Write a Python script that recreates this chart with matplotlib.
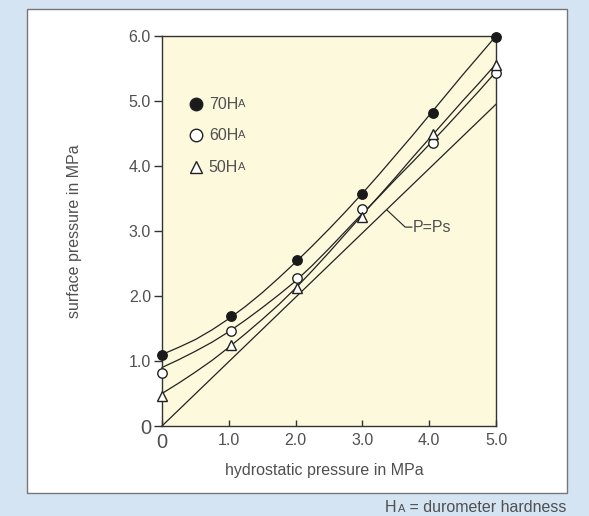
import matplotlib
matplotlib.use("Agg")
import matplotlib.pyplot as plt
from matplotlib.patches import Rectangle

plt.rcParams["font.family"] = ["Liberation Sans", "DejaVu Sans"]

# measured points (hydrostatic pressure -> surface pressure), MPa
X_PTS = [0.0, 1.03, 2.02, 3.0, 4.05, 5.0]
H70_PTS = [1.10, 1.69, 2.55, 3.57, 4.82, 5.98]
H60_PTS = [0.82, 1.46, 2.27, 3.34, 4.35, 5.43]
H50_PTS = [0.46, 1.24, 2.13, 3.21, 4.49, 5.56]

# fitted curves at 0.25 MPa steps
X_CURVE = [0.0, 0.25, 0.5, 0.75, 1.0, 1.25, 1.5, 1.75, 2.0, 2.25, 2.5,
           2.75, 3.0, 3.25, 3.5, 3.75, 4.0, 4.25, 4.5, 4.75, 5.0]
H70_CURVE = [1.10, 1.21, 1.33, 1.48, 1.65, 1.84, 2.05, 2.28, 2.52, 2.77, 3.03,
             3.30, 3.58, 3.87, 4.17, 4.47, 4.78, 5.09, 5.40, 5.70, 6.00]
H60_CURVE = [0.90, 1.02, 1.15, 1.29, 1.45, 1.63, 1.82, 2.02, 2.23, 2.47, 2.73,
             3.00, 3.27, 3.53, 3.80, 4.06, 4.33, 4.60, 4.88, 5.16, 5.45]
H50_CURVE = [0.50, 0.66, 0.83, 1.01, 1.21, 1.42, 1.64, 1.87, 2.12, 2.39, 2.67,
             2.96, 3.25, 3.54, 3.83, 4.13, 4.42, 4.71, 5.00, 5.28, 5.57]

# P = Ps reference line
X_REF = [0.0, 5.0]
Y_REF = [0.0, 4.95]

X_TICKS = [0, 1, 2, 3, 4, 5]
X_LABELS = ["0", "1.0", "2.0", "3.0", "4.0", "5.0"]
Y_TICKS = [0, 1, 2, 3, 4, 5, 6]
Y_LABELS = ["0", "1.0", "2.0", "3.0", "4.0", "5.0", "6.0"]

BG = "#d5e4f3"
FILL = "#fdf9dc"
INK = "#222222"
TXT = "#505050"
FS = 11.5

W, H = 589, 516
fig = plt.figure(figsize=(W / 100, H / 100), dpi=100)
fig.patch.set_facecolor(BG)
fig.patches.append(Rectangle((27 / W, 1 - 493 / H), 540 / W, 484 / H,
                             transform=fig.transFigure, facecolor="white",
                             edgecolor="#777777", linewidth=1.0, zorder=-5))

ax = fig.add_axes([162 / W, 1 - 426 / H, 334 / W, 390 / H])
ax.set_zorder(2)
ax.set_facecolor(FILL)
ax.set_xlim(0, 5)
ax.set_ylim(0, 6)
for s in ax.spines.values():
    s.set_color("#333333")
    s.set_linewidth(1.0)

lw = 0.9
ax.plot(X_CURVE, H70_CURVE, color=INK, lw=lw, clip_on=False)
ax.plot(X_CURVE, H60_CURVE, color=INK, lw=lw, clip_on=False)
ax.plot(X_CURVE, H50_CURVE, color=INK, lw=lw, clip_on=False)
ax.plot(X_REF, Y_REF, color=INK, lw=lw, clip_on=False)

ms = 6.8
ax.plot(X_PTS, H70_PTS, "o", ms=ms, mfc="#1a1a1a", mec="#1a1a1a", clip_on=False, zorder=5)
ax.plot(X_PTS, H60_PTS, "o", ms=ms, mfc="white", mec=INK, mew=1.0, clip_on=False, zorder=5)
ax.plot(X_PTS, H50_PTS, "^", ms=ms, mfc="white", mec=INK, mew=1.0, clip_on=False, zorder=5)

# in-plot legend
leg = [("o", "#1a1a1a", "70", 4.95), ("o", "white", "60", 4.47), ("^", "white", "50", 3.98)]
for mk, fc, name, yy in leg:
    ax.plot([0.51], [yy], mk, ms=9, mfc=fc, mec=INK, mew=1.0)
    t = ax.text(0.70, yy, name + "H", fontsize=FS, color=TXT, va="center", ha="left")
    ax.annotate("A", xy=(1, 0), xycoords=t, fontsize=8, color=TXT,
                va="bottom", ha="left", xytext=(0, 1.8), textcoords="offset points")

# P=Ps leader and label
ax.plot([3.37, 3.64, 3.74], [3.32, 3.06, 3.06], color=INK, lw=0.8)
ax.text(3.76, 3.05, "P=Ps", fontsize=FS, color=TXT, va="center", ha="left")

ax.set_xticks(X_TICKS)
ax.set_xticklabels(X_LABELS)
ax.set_yticks(Y_TICKS)
ax.set_yticklabels(Y_LABELS)
ax.tick_params(axis="x", direction="in", length=4, width=1, color="#333333",
               labelsize=FS, labelcolor=TXT, pad=5)
ax.tick_params(axis="y", direction="out", length=6, width=1, color="#333333",
               labelsize=FS, labelcolor=TXT, pad=2)
ax.get_xticklabels()[0].set_fontsize(14.5)
ax.get_yticklabels()[0].set_fontsize(14.5)

fig.text(324 / W, 1 - 470 / H, "hydrostatic pressure in MPa", fontsize=FS, color=TXT,
         ha="center", va="center")
fig.text(75 / W, 1 - 231 / H, "surface pressure in MPa", fontsize=FS, color=TXT,
         rotation=90, ha="center", va="center")

# footer note: "HA = durometer hardness" with small A
fig.text(566 / W, 1 - 512 / H, " = durometer hardness", fontsize=FS, color=TXT,
         ha="right", va="baseline")
fig.text(385 / W, 1 - 512 / H, "H", fontsize=FS, color=TXT, ha="left", va="baseline")
fig.text(398 / W, 1 - 512 / H, "A", fontsize=8, color=TXT, ha="left", va="baseline")

fig.savefig("out.png", dpi=100, facecolor=BG)
